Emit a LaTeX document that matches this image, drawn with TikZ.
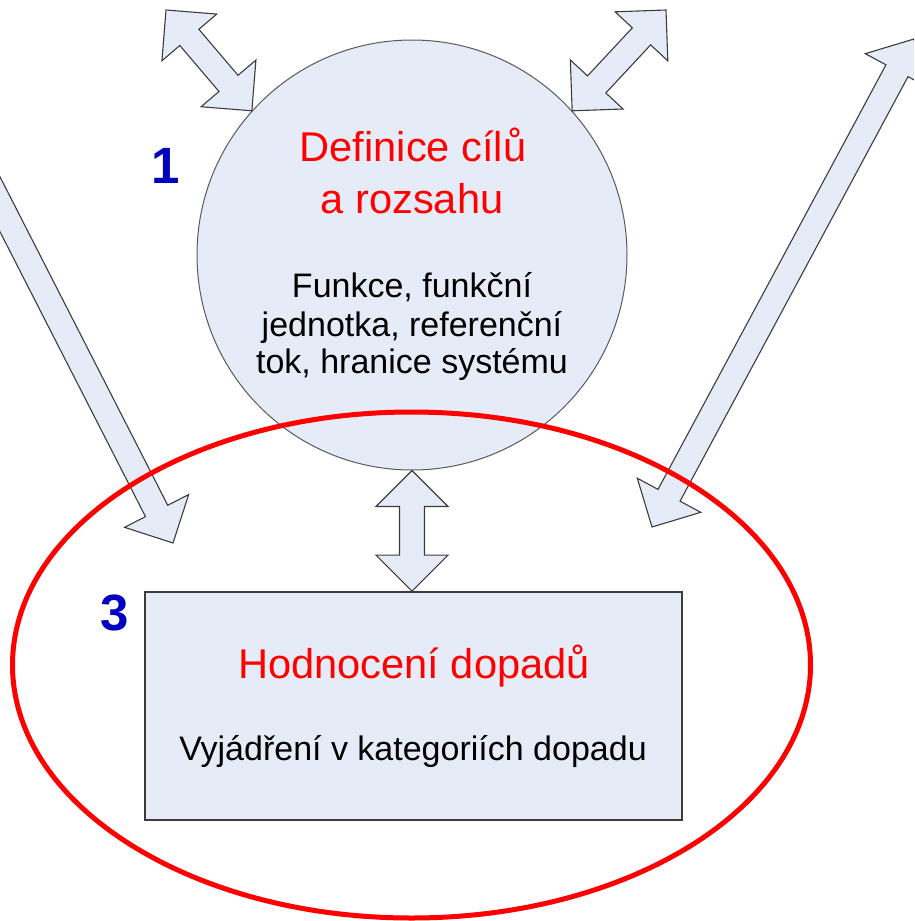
\documentclass[tikz,border=0pt]{standalone}
\usepackage{fontspec}
\setmainfont{Liberation Sans}
\usetikzlibrary{calc}
\definecolor{boxfill}{RGB}{230,236,247}
\definecolor{numblue}{RGB}{0,0,192}
\definecolor{edgegray}{RGB}{60,60,60}
\tikzset{
  arrowbody/.style={draw=edgegray, line width=1.1pt, fill=boxfill, line join=miter},
  redtext/.style={text=red, inner sep=0pt, anchor=base, font=\fontsize{41.6}{49}\selectfont},
  blacktext/.style={text=black, inner sep=0pt, anchor=base, font=\fontsize{34}{38}\selectfont},
  numtext/.style={text=numblue, inner sep=0pt, anchor=base, font=\fontsize{51}{56}\selectfont\bfseries},
}
\newcommand{\dblarrow}[2]{%
  \draw[arrowbody] (#1)
    -- ($(#1)!36pt!(#2)!36pt!90:(#2)$)
    -- ($(#1)!36pt!(#2)!12.5pt!90:(#2)$)
    -- ($(#2)!36pt!(#1)!12.5pt!-90:(#1)$)
    -- ($(#2)!36pt!(#1)!36pt!-90:(#1)$)
    -- (#2)
    -- ($(#2)!36pt!(#1)!36pt!90:(#1)$)
    -- ($(#2)!36pt!(#1)!12.5pt!90:(#1)$)
    -- ($(#1)!36pt!(#2)!12.5pt!-90:(#2)$)
    -- ($(#1)!36pt!(#2)!36pt!-90:(#2)$)
    -- cycle;}
\newcommand{\sglarrow}[2]{%
  \draw[arrowbody] ($(#1)!12.5pt!90:(#2)$)
    -- ($(#2)!36pt!(#1)!12.5pt!-90:(#1)$)
    -- ($(#2)!36pt!(#1)!36pt!-90:(#1)$)
    -- (#2)
    -- ($(#2)!36pt!(#1)!36pt!90:(#1)$)
    -- ($(#2)!36pt!(#1)!12.5pt!90:(#1)$)
    -- ($(#1)!12.5pt!-90:(#2)$)
    -- cycle;}
\begin{document}
\begin{tikzpicture}[x=1pt, y=-1pt]
\useasboundingbox (0,0) rectangle (914,921);
\clip (0,0) rectangle (914,921);
\fill[white] (0,0) rectangle (914,921);

% main shapes
\node[circle, draw=edgegray!85, line width=1pt, fill=boxfill, minimum size=430pt, inner sep=0pt] (c) at (412,255) {};
\node[rectangle, draw=edgegray, line width=1.8pt, fill=boxfill, minimum width=537pt, minimum height=228pt, inner sep=0pt] (r) at (413.5,706) {};

% free ends of connectors
\coordinate (tl) at (166,10);
\coordinate (tr) at (666,10);
\coordinate (ltail) at (-40,126);
\coordinate (ltip) at (173,543);
\coordinate (rtop) at (914,39);
\coordinate (rbot) at (652,527);
\coordinate (vbot) at (c.south |- r.north);

% connectors
\dblarrow{tl}{c.138}
\dblarrow{tr}{c.42}
\dblarrow{c.south}{vbot}
\sglarrow{ltail}{ltip}
\dblarrow{rbot}{rtop}

% texts
\node[redtext] (t1) at (413,161) {Definice cílů};
\node[redtext] (t2) at (412,213) {a rozsahu};
\node[blacktext] (t3) at (412,297) {Funkce, funkční};
\node[blacktext] (t4) at (412,336) {jednotka, referenční};
\node[blacktext] (t5) at (412,373) {tok, hranice systému};
\node[redtext] (t6) at (414,678) {Hodnocení dopadů};
\node[blacktext] (t7) at (413,760) {Vyjádření v kategoriích dopadu};
\node[numtext] (n1) at (166,183) {1};
\node[numtext] (n3) at (115,630) {3};

% red ellipse
\draw[red, line width=5pt] (411.5,665) ellipse [x radius=399pt, y radius=253pt];
\end{tikzpicture}
\end{document}
